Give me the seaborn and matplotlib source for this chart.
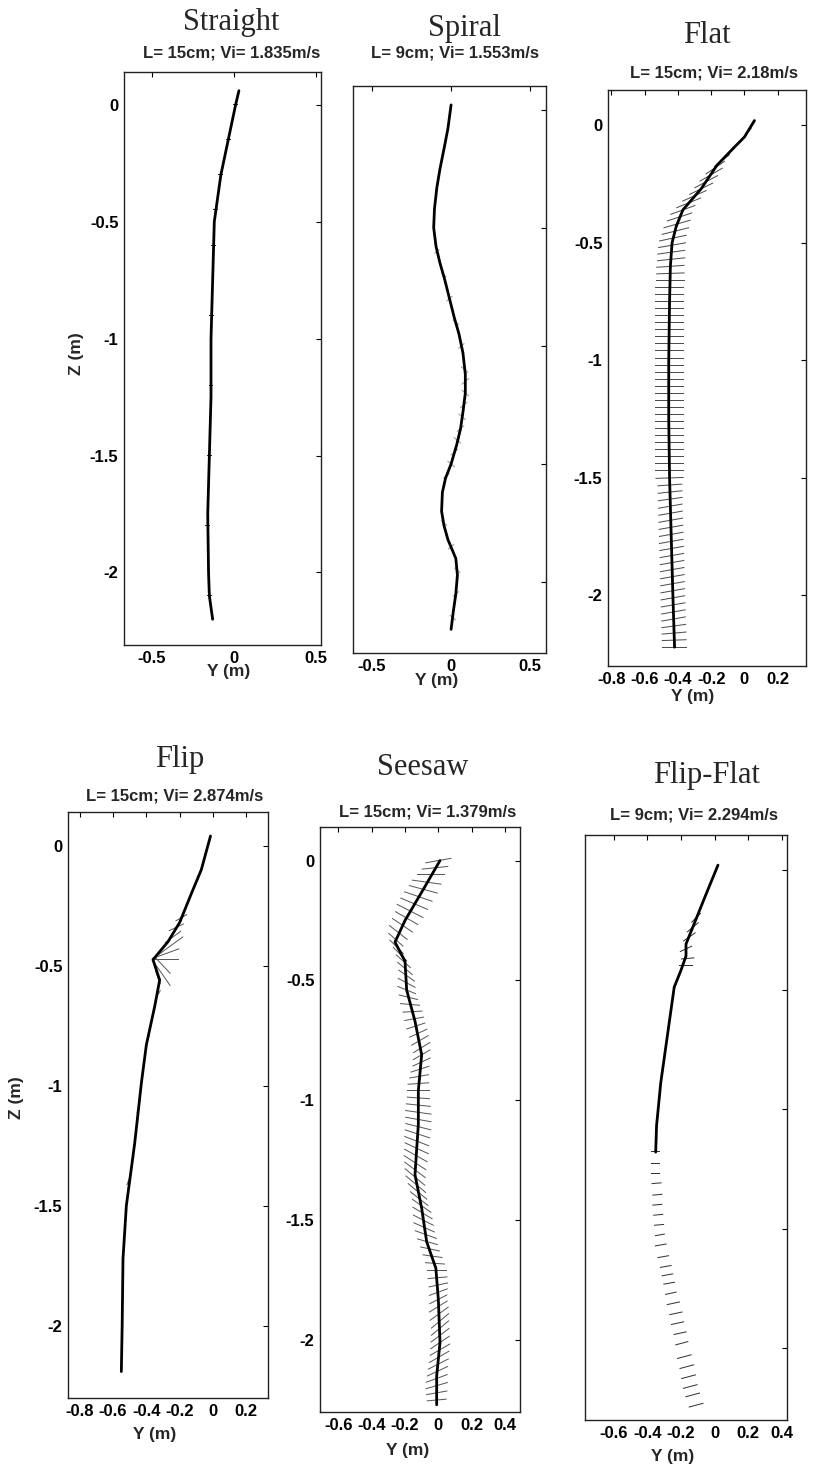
import numpy as np
import matplotlib
matplotlib.use("Agg")
import matplotlib.pyplot as plt
import seaborn as sns

sns.set_theme(style="white")
plt.rcParams['font.family'] = ['Liberation Sans', 'DejaVu Sans']

# ---------------- text ----------------
titles = ["Straight", "Spiral", "Flat", "Flip", "Seesaw", "Flip-Flat"]
subtitles = ["L= 15cm; Vi= 1.835m/s", "L= 9cm; Vi= 1.553m/s", "L= 15cm; Vi= 2.18m/s",
             "L= 15cm; Vi= 2.874m/s", "L= 15cm; Vi= 1.379m/s", "L= 9cm; Vi= 2.294m/s"]
z_ticks = [0, -0.5, -1, -1.5, -2]
z_ticklabels = ["0", "-0.5", "-1", "-1.5", "-2"]
y_ticks_a = [-0.5, 0, 0.5]
y_ticklabels_a = ["-0.5", "0", "0.5"]
y_ticks_b = [-0.8, -0.6, -0.4, -0.2, 0, 0.2]
y_ticklabels_b = ["-0.8", "-0.6", "-0.4", "-0.2", "0", "0.2"]
y_ticks_c = [-0.6, -0.4, -0.2, 0, 0.2, 0.4]
y_ticklabels_c = ["-0.6", "-0.4", "-0.2", "0", "0.2", "0.4"]

# ---------------- data: trajectories (Y, Z in m) and body-orientation segments ----------------
st_traj_y = [0.03, 0.01, -0.02, -0.05, -0.08, -0.10, -0.12, -0.13, -0.14, -0.14, -0.15, -0.16, -0.155, -0.15, -0.13]
st_traj_z = [0.06, 0.0, -0.1, -0.2, -0.3, -0.4, -0.5, -0.75, -1.0, -1.25, -1.5, -1.75, -2.0, -2.1, -2.2]
st_seg_z = [0.0, -0.15, -0.3, -0.45, -0.6, -0.9, -1.2, -1.5, -1.8, -2.1]
st_seg_y = [0.01, -0.035, -0.08, -0.11, -0.125, -0.135, -0.14, -0.15, -0.16, -0.15]
st_seg_half = [0.015, 0.015, 0.015, 0.015, 0.015, 0.015, 0.015, 0.015, 0.015, 0.015]
st_seg_ang = [0, 0, 0, 0, 0, 0, 0, 0, 0, 0]

sp_traj_z = [0.02, -0.08, -0.15, -0.25, -0.33, -0.42, -0.5, -0.58, -0.65, -0.72, -0.8, -0.88, -0.95, -1.03, -1.12,
             -1.2, -1.28, -1.35, -1.42, -1.5, -1.56, -1.62, -1.7, -1.76, -1.82, -1.9, -1.97, -2.05, -2.12, -2.2]
sp_traj_y = [0.0, -0.02, -0.04, -0.07, -0.09, -0.105, -0.11, -0.095, -0.07, -0.04, -0.01, 0.02, 0.05, 0.075, 0.09,
             0.09, 0.075, 0.06, 0.035, 0.0, -0.035, -0.055, -0.06, -0.045, -0.02, 0.03, 0.04, 0.03, 0.015, 0.0]
sp_seg_z = [-0.6, -0.7, -0.8, -0.9, -1.0, -1.1, -1.15, -1.2, -1.25, -1.3, -1.35, -1.4, -1.45, -1.5, -1.55,
            -1.75, -1.85, -1.95, -2.05, -2.15]
sp_seg_y = [-0.09, -0.045, -0.01, 0.03, 0.065, 0.085, 0.09, 0.09, 0.08, 0.07, 0.06, 0.04, 0.02, 0.0, -0.03,
            -0.045, 0.0, 0.04, 0.03, 0.01]
sp_seg_half = [0.02, 0.02, 0.025, 0.025, 0.025, 0.03, 0.03, 0.03, 0.03, 0.03, 0.03, 0.03, 0.03, 0.03, 0.025,
               0.025, 0.025, 0.025, 0.025, 0.025]
sp_seg_ang = [40, -40, 40, -40, 40, -40, 40, -40, 40, -40, 40, -40, 40, -40, 40, -40, 40, -40, 40, -40]

fl_traj_z = [0.02, -0.05, -0.1, -0.17, -0.27, -0.36, -0.43, -0.5, -0.6, -0.75, -1.0, -1.25, -1.5, -1.75, -2.0, -2.22]
fl_traj_y = [0.06, 0.0, -0.07, -0.165, -0.26, -0.37, -0.41, -0.435, -0.445, -0.45, -0.455, -0.455, -0.45, -0.44, -0.43, -0.42]
fl_seg_z = [0.00, -0.03, -0.06, -0.09, -0.12, -0.15, -0.18, -0.21, -0.24, -0.27, -0.30, -0.33, -0.36, -0.39,
            -0.42, -0.45, -0.48, -0.51, -0.54, -0.57, -0.60, -0.63, -0.66, -0.69, -0.72, -0.75, -0.78, -0.81,
            -0.84, -0.87, -0.90, -0.93, -0.96, -0.99, -1.02, -1.05, -1.08, -1.11, -1.14, -1.17, -1.20, -1.23,
            -1.26, -1.29, -1.32, -1.35, -1.38, -1.41, -1.44, -1.47, -1.50, -1.53, -1.56, -1.59, -1.62, -1.65,
            -1.68, -1.71, -1.74, -1.77, -1.80, -1.83, -1.86, -1.89, -1.92, -1.95, -1.98, -2.01, -2.04, -2.07,
            -2.10, -2.13, -2.16, -2.19, -2.22]
fl_seg_y = [0.045, 0.02, -0.015, -0.055, -0.095, -0.135, -0.175, -0.20, -0.23, -0.26, -0.30, -0.335, -0.37, -0.39,
            -0.405, -0.415, -0.43, -0.435, -0.44, -0.44, -0.445, -0.445, -0.445, -0.45, -0.45, -0.45, -0.45, -0.45,
            -0.45, -0.45, -0.45, -0.45, -0.45, -0.45, -0.45, -0.45, -0.45, -0.45, -0.45, -0.45, -0.45, -0.45,
            -0.45, -0.45, -0.45, -0.45, -0.45, -0.45, -0.45, -0.45, -0.45, -0.448, -0.447, -0.446, -0.445, -0.444,
            -0.443, -0.442, -0.44, -0.44, -0.438, -0.436, -0.435, -0.434, -0.433, -0.432, -0.431, -0.43, -0.428, -0.427,
            -0.426, -0.425, -0.423, -0.422, -0.42]
fl_seg_half = [0.03, 0.035, 0.04, 0.045, 0.05, 0.06, 0.07, 0.08, 0.08, 0.08, 0.08, 0.08, 0.08, 0.08,
               0.085, 0.085, 0.085, 0.085, 0.085, 0.085, 0.085, 0.085, 0.085, 0.085, 0.085, 0.085, 0.085, 0.085,
               0.085, 0.085, 0.085, 0.085, 0.085, 0.085, 0.085, 0.085, 0.085, 0.085, 0.085, 0.085, 0.085, 0.085,
               0.085, 0.085, 0.085, 0.085, 0.085, 0.085, 0.085, 0.085, 0.085, 0.075, 0.075, 0.075, 0.075, 0.075,
               0.075, 0.075, 0.075, 0.075, 0.075, 0.075, 0.075, 0.075, 0.075, 0.075, 0.075, 0.075, 0.075, 0.075,
               0.075, 0.075, 0.075, 0.075, 0.075]
fl_seg_ang = [50, 50, 48, 45, 42, 38, 34, 30, 28, 26, 24, 22, 20, 18,
              16, 14, 12, 10, 8, 6, 4, 2, 0, 0, 0, 0, 0, 0,
              0, 0, 0, 0, 0, 0, 0, 0, 0, 0, 0, 0, 0, 0,
              0, 0, 0, 0, 0, 0, 0, 0, 2, 4, 6, 8, 10, 10,
              10, 10, 10, 10, 10, 10, 10, 10, 10, 10, 10, 10, 10, 10,
              10, 8, 5, 2, 0]

fp_traj_z = [0.04, -0.1, -0.2, -0.32, -0.4, -0.475, -0.56, -0.67, -0.83, -0.99, -1.24, -1.5, -1.72, -2.0, -2.19]
fp_traj_y = [-0.015, -0.07, -0.13, -0.2, -0.27, -0.36, -0.32, -0.35, -0.40, -0.43, -0.47, -0.52, -0.54, -0.545, -0.55]
fp_seg_z = [-0.30, -0.34, -0.38, -0.42, -0.45, -0.475, -0.50, -0.53, -0.55, -0.62, -0.8, -1.1, -1.4, -1.7, -2.0]
fp_seg_y = [-0.19, -0.22, -0.24, -0.26, -0.285, -0.285, -0.30, -0.31, -0.33, -0.33, -0.39, -0.45, -0.51, -0.54, -0.545]
fp_seg_half = [0.04, 0.05, 0.06, 0.1, 0.087, 0.08, 0.065, 0.095, 0.04, 0.03, 0.02, 0.02, 0.02, 0.02, 0.02]
fp_seg_ang = [30, 25, 36, 36, 20, 0, -47, -55, -70, 60, 60, 70, 70, 80, 85]

ss_traj_z = [0.0, -0.12, -0.25, -0.34, -0.42, -0.54, -0.67, -0.81, -0.96, -1.1, -1.31, -1.45, -1.59, -1.7, -1.83, -2.01, -2.15, -2.27]
ss_traj_y = [0.01, -0.09, -0.2, -0.26, -0.2, -0.19, -0.14, -0.1, -0.12, -0.12, -0.14, -0.1, -0.07, -0.015, 0.0, 0.01, -0.01, -0.01]
ss_seg_z = [0.00, -0.03, -0.06, -0.09, -0.12, -0.15, -0.18, -0.21, -0.24, -0.27, -0.30, -0.33, -0.36, -0.39,
            -0.42, -0.45, -0.48, -0.51, -0.54, -0.57, -0.60, -0.63, -0.66, -0.69, -0.72, -0.75, -0.78, -0.81,
            -0.84, -0.87, -0.90, -0.93, -0.96, -0.99, -1.02, -1.05, -1.08, -1.11, -1.14, -1.17, -1.20, -1.23,
            -1.26, -1.29, -1.32, -1.35, -1.38, -1.41, -1.44, -1.47, -1.50, -1.53, -1.56, -1.59, -1.62, -1.65,
            -1.68, -1.71, -1.74, -1.77, -1.80, -1.83, -1.86, -1.89, -1.92, -1.95, -1.98, -2.01, -2.04, -2.07,
            -2.10, -2.13, -2.16, -2.19, -2.22, -2.25]
ss_seg_y = [0.0, -0.02, -0.045, -0.07, -0.09, -0.12, -0.145, -0.17, -0.19, -0.215, -0.24, -0.255, -0.25, -0.23,
            -0.21, -0.20, -0.19, -0.19, -0.19, -0.18, -0.17, -0.155, -0.145, -0.135, -0.12, -0.11, -0.10, -0.10,
            -0.10, -0.11, -0.115, -0.12, -0.12, -0.12, -0.12, -0.12, -0.12, -0.12, -0.125, -0.13, -0.13, -0.135,
            -0.14, -0.14, -0.14, -0.135, -0.125, -0.115, -0.10, -0.095, -0.09, -0.085, -0.075, -0.065, -0.05, -0.035,
            -0.02, -0.01, -0.005, 0.0, 0.0, 0.0, 0.0, 0.005, 0.01, 0.01, 0.01, 0.01, 0.01, 0.005,
            0.0, -0.005, -0.01, -0.01, -0.01, -0.01]
ss_seg_half = [0.08, 0.08, 0.085, 0.09, 0.09, 0.09, 0.09, 0.09, 0.08, 0.075, 0.07, 0.06, 0.06, 0.06,
               0.06, 0.06, 0.06, 0.06, 0.06, 0.06, 0.06, 0.06, 0.06, 0.06, 0.06, 0.06, 0.06, 0.06,
               0.06, 0.06, 0.06, 0.065, 0.07, 0.07, 0.075, 0.08, 0.08, 0.08, 0.08, 0.08, 0.08, 0.08,
               0.08, 0.08, 0.08, 0.08, 0.075, 0.07, 0.07, 0.07, 0.07, 0.07, 0.07, 0.065, 0.06, 0.06,
               0.06, 0.06, 0.06, 0.06, 0.06, 0.06, 0.065, 0.07, 0.07, 0.07, 0.07, 0.07, 0.07, 0.07,
               0.07, 0.07, 0.07, 0.07, 0.065, 0.06]
ss_seg_ang = [10, 6, 0, -8, -15, -19, -23, -27, -30, -34, -38, -42, -45, -45,
              -42, -40, -35, -28, -22, -14, -5, 3, 10, 18, 25, 30, 32, 30,
              25, 18, 10, 4, 0, -4, -6, -8, -10, -14, -18, -21, -25, -29,
              -33, -37, -40, -40, -40, -38, -35, -31, -27, -24, -20, -16, -12, -8,
              -4, 0, 5, 12, 20, 27, 32, 36, 40, 40, 37, 34, 30, 30,
              27, 25, 20, 16, 10, 5]

ff_traj_z = [0.02, -0.1, -0.17, -0.24, -0.31, -0.36, -0.42, -0.49, -0.64, -0.89, -1.07, -1.18]
ff_traj_y = [0.02, -0.05, -0.09, -0.13, -0.17, -0.17, -0.2, -0.24, -0.27, -0.32, -0.345, -0.35]
ff_seg_z = [-0.20, -0.24, -0.28, -0.33, -0.37, -0.40,
            -1.177, -1.226, -1.268, -1.310, -1.358, -1.400, -1.442, -1.484, -1.526, -1.568, -1.617, -1.658,
            -1.693, -1.728, -1.770, -1.812, -1.854, -1.895, -1.937, -1.979, -2.035, -2.077, -2.119, -2.160,
            -2.195, -2.238]
ff_seg_y = [-0.11, -0.13, -0.15, -0.17, -0.16, -0.17,
            -0.35, -0.35, -0.35, -0.345, -0.34, -0.34, -0.335, -0.33, -0.325, -0.32, -0.305, -0.29,
            -0.28, -0.27, -0.26, -0.245, -0.23, -0.22, -0.205, -0.195, -0.18, -0.165, -0.155, -0.145,
            -0.13, -0.11]
ff_seg_half = [0.04, 0.045, 0.045, 0.04, 0.04, 0.04,
               0.025, 0.025, 0.025, 0.03, 0.03, 0.03, 0.03, 0.03, 0.03, 0.035, 0.035, 0.035,
               0.035, 0.035, 0.035, 0.04, 0.04, 0.04, 0.04, 0.04, 0.045, 0.045, 0.045, 0.045,
               0.045, 0.045]
ff_seg_ang = [45, 40, 35, 25, 5, 0,
              0, 0, 0, 5, 5, 5, 5, 5, 10, 10, 10, 10,
              10, 10, 12, 12, 12, 12, 12, 15, 15, 15, 15, 15,
              15, 15]

# ---------------- layout (pixel boxes l, t, r, b) and limits ----------------
W, H = 814, 1467
panels = [
    dict(box=(124, 72, 321, 645), xlim=(-0.67, 0.53), ylim=(-2.31, 0.14), xt=(y_ticks_a, y_ticklabels_a), ylab=True,
         traj=(st_traj_y, st_traj_z), seg=(st_seg_y, st_seg_z, st_seg_half, st_seg_ang), segcol='0.15',
         title=(231, 30), sub=(232, 57), ylabelpos=(229, 672), zlabelpos=(77, 354)),
    dict(box=(353, 86, 546, 653), xlim=(-0.62, 0.60), ylim=(-2.30, 0.10), xt=(y_ticks_a, y_ticklabels_a), ylab=False,
         traj=(sp_traj_y, sp_traj_z), seg=(sp_seg_y, sp_seg_z, sp_seg_half, sp_seg_ang), segcol='0.6',
         title=(464, 36), sub=(455, 58), ylabelpos=(437, 680), zlabelpos=None),
    dict(box=(608, 90, 806, 666), xlim=(-0.82, 0.37), ylim=(-2.30, 0.15), xt=(y_ticks_b, y_ticklabels_b), ylab=True,
         traj=(fl_traj_y, fl_traj_z), seg=(fl_seg_y, fl_seg_z, fl_seg_half, fl_seg_ang), segcol='0.3',
         title=(707, 43), sub=(714, 78), ylabelpos=(693, 697), zlabelpos=None),
    dict(box=(68, 812, 268, 1398), xlim=(-0.87, 0.33), ylim=(-2.30, 0.14), xt=(y_ticks_b, y_ticklabels_b), ylab=True,
         traj=(fp_traj_y, fp_traj_z), seg=(fp_seg_y, fp_seg_z, fp_seg_half, fp_seg_ang), segcol='0.35',
         title=(180, 767), sub=(175, 800), ylabelpos=(155, 1435), zlabelpos=(17, 1098)),
    dict(box=(320, 827, 520, 1412), xlim=(-0.71, 0.49), ylim=(-2.30, 0.14), xt=(y_ticks_c, y_ticklabels_c), ylab=True,
         traj=(ss_traj_y, ss_traj_z), seg=(ss_seg_y, ss_seg_z, ss_seg_half, ss_seg_ang), segcol='0.35',
         title=(423, 775), sub=(428, 816), ylabelpos=(408, 1450), zlabelpos=None),
    dict(box=(585, 835, 787, 1420), xlim=(-0.77, 0.43), ylim=(-2.30, 0.146), xt=(y_ticks_c, y_ticklabels_c), ylab=False,
         traj=(ff_traj_y, ff_traj_z), seg=(ff_seg_y, ff_seg_z, ff_seg_half, ff_seg_ang), segcol='0.2',
         title=(707, 783), sub=(694, 820), ylabelpos=(673, 1457), zlabelpos=None),
]

fig = plt.figure(figsize=(W / 100, H / 100), dpi=100)
fig.patch.set_facecolor('white')


def fx(px):
    return px / W


def fy(py):
    return 1 - py / H


for i, p in enumerate(panels):
    l, t, r, b = p['box']
    ax = fig.add_axes([fx(l), fy(b), (r - l) / W, (b - t) / H])
    ax.set_facecolor('white')
    sy, sz, sh, sa = p['seg']
    assert len(sy) == len(sz) == len(sh) == len(sa)
    a = np.deg2rad(np.asarray(sa, float))
    full = 2 * np.asarray(sh, float)
    ax.quiver(sy, sz, full * np.cos(a), full * np.sin(a), angles='uv', scale_units='x', scale=1,
              pivot='middle', headwidth=0, headlength=0, headaxislength=0, units='dots', width=1.0,
              color=p['segcol'], zorder=2)
    ty, tz = p['traj']
    sns.lineplot(x=ty, y=tz, sort=False, estimator=None, color='black', linewidth=2.0, ax=ax, zorder=3)
    ax.set_xlim(*p['xlim'])
    ax.set_ylim(*p['ylim'])
    ax.set_xticks(p['xt'][0])
    ax.set_xticklabels(p['xt'][1])
    ax.set_yticks(z_ticks)
    if p['ylab']:
        ax.set_yticklabels(z_ticklabels)
    else:
        ax.set_yticklabels([])
    ax.set_xlabel('')
    ax.set_ylabel('')
    ax.tick_params(direction='in', top=True, right=True, length=3.5, width=0.8, colors='black',
                   labelsize=12, pad=4)
    for lab in ax.get_xticklabels() + ax.get_yticklabels():
        lab.set_fontweight('bold')
    for s in ax.spines.values():
        s.set_color('#222222')
        s.set_linewidth(1.0)
    fig.text(fx(p['title'][0]), fy(p['title'][1]), titles[i], ha='center', va='baseline',
             fontsize=22, family=['Liberation Serif', 'DejaVu Serif'])
    fig.text(fx(p['sub'][0]), fy(p['sub'][1]), subtitles[i], ha='center', va='baseline',
             fontsize=12, fontweight='bold')
    fig.text(fx(p['ylabelpos'][0]), fy(p['ylabelpos'][1]), 'Y (m)', ha='center', va='center',
             fontsize=12.5, fontweight='bold')
    if p['zlabelpos'] is not None:
        fig.text(fx(p['zlabelpos'][0]), fy(p['zlabelpos'][1]), 'Z (m)', ha='center', va='center',
                 rotation=90, fontsize=12.5, fontweight='bold')

fig.savefig('out.png', dpi=100, facecolor='white')
